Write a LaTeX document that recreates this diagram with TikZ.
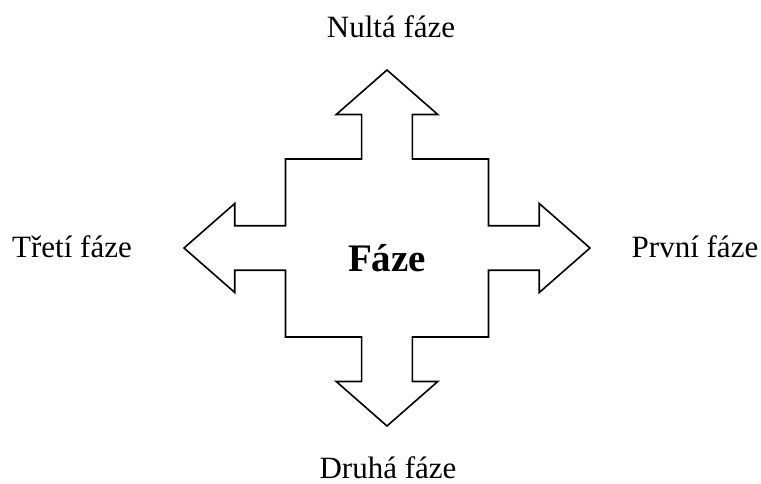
\documentclass[tikz,border=0pt]{standalone}
\usepackage{fontspec}
\setmainfont{Liberation Serif}
\usepackage{tikz}
\usepackage{xcolor}

\tikzset{
  phaselabel/.style={anchor=base, inner sep=0pt, font=\fontsize{31}{37}\selectfont},
  centerlabel/.style={anchor=base, inner sep=0pt, font=\fontsize{39}{46}\selectfont\bfseries}
}

\begin{document}
\begin{tikzpicture}[x=1pt, y=-1pt]
        \useasboundingbox (0,0) rectangle (761,483);

        % four-way arrow
        \begin{scope}[shift={(387,248)}, xscale=101.5, yscale=89]
        \draw[line width=1.6pt, line join=miter, fill=white]
          (0,-2) -- (0.5,-1.5) -- (0.25,-1.5) -- (0.25,-1) -- (1,-1)
          -- (1,-0.25) -- (1.5,-0.25) -- (1.5,-0.5) -- (2,0) -- (1.5,0.5) -- (1.5,0.25) -- (1,0.25)
          -- (1,1) -- (0.25,1) -- (0.25,1.5) -- (0.5,1.5) -- (0,2) -- (-0.5,1.5) -- (-0.25,1.5) -- (-0.25,1)
          -- (-1,1) -- (-1,0.25) -- (-1.5,0.25) -- (-1.5,0.5) -- (-2,0) -- (-1.5,-0.5) -- (-1.5,-0.25) -- (-1,-0.25)
          -- (-1,-1) -- (-0.25,-1) -- (-0.25,-1.5) -- (-0.5,-1.5) -- cycle;
        \end{scope}

        % labels
        \node[centerlabel] (faze) at (387,271) {Fáze};
        \node[phaselabel] (nulta) at (391,37) {Nultá fáze};
        \node[phaselabel] (prvni) at (695,257) {První fáze};
        \node[phaselabel] (druha) at (388,478) {Druhá fáze};
        \node[phaselabel] (treti) at (72,257) {Třetí fáze};
\end{tikzpicture}
\end{document}
